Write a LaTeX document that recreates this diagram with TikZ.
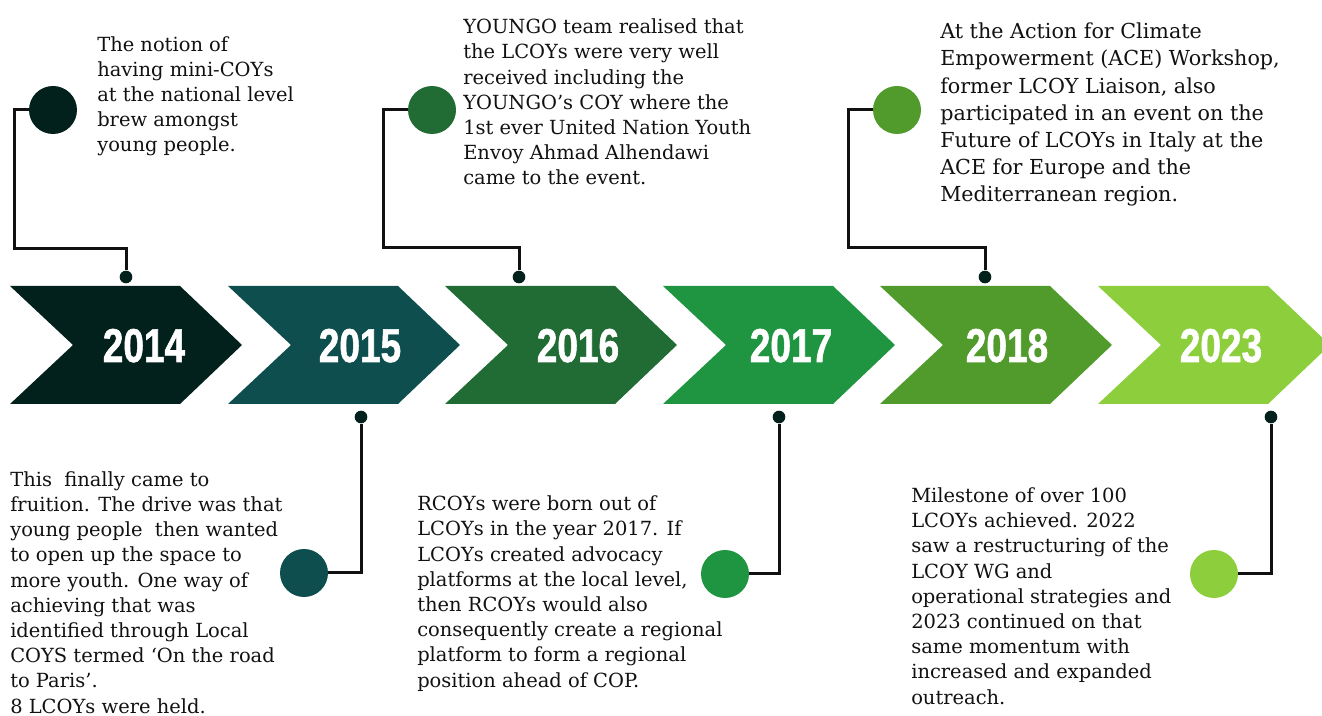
\documentclass[tikz,border=0pt]{standalone}
\usepackage{fontspec}
\setmainfont{DejaVu Serif}
\newfontfamily\yearfont[FakeStretch=0.78,FakeBold=1.2]{Liberation Sans}
\definecolor{yr14}{HTML}{03211C}
\definecolor{yr15}{HTML}{0E4E4E}
\definecolor{yr16}{HTML}{216B35}
\definecolor{yr17}{HTML}{1F9542}
\definecolor{yr18}{HTML}{519B2D}
\definecolor{yr23}{HTML}{8DCE3C}
\definecolor{ink}{HTML}{111111}

\begin{document}
\begin{tikzpicture}[x=0.75pt,y=-0.75pt,
  year/.style={text=white,inner sep=0,anchor=base,
    font=\yearfont\bfseries\fontsize{35.6}{36}\selectfont},
  blurb/.style={text=ink,inner sep=0,anchor=base west,align=left,
    font=\fontsize{14.6}{18.9}\selectfont},
  bubble/.style={circle,inner sep=0,minimum size=36pt},
  pin/.style={circle,inner sep=0,minimum size=9.5pt,fill=yr14},
  link/.style={ink,line width=2.25pt}]
  \clip (0,0) rectangle (1322,716);

  % Arrows
  \foreach \l/\c in {10/yr14,228/yr15,445/yr16,663/yr17,880/yr18,1098/yr23}
    \fill[\c] (\l,286) -- ++(170,0) -- ++(62,59) -- ++(-62,59)
      -- ++(-170,0) -- ++(63,-59) -- cycle;
  \foreach \x/\n in {144/2014,360/2015,578/2016,791/2017,1007/2018,1221/2023}
    \node[year] (y\n) at (\x,362) {\n};

  % Top row (text placed by its last line)
  \node[bubble,fill=yr14] (c14) at (53,110) {};
  \node[pin] (d14) at (126,277) {};
  \coordinate (k14) at (14,249);
  \draw[link] (c14.west) -| (k14) -| (d14.north);
  \node[blurb] (t14) at (97,152) {The notion of\\having mini-COYs\\at the national level\\brew amongst\\young people.};

  \node[bubble,fill=yr16] (c16) at (432,110) {};
  \node[pin] (d16) at (519,277) {};
  \coordinate (k16) at (383,248);
  \draw[link] (c16.west) -| (k16) -| (d16.north);
  \node[blurb] (t16) at (463,185) {YOUNGO team realised that\\the LCOYs were very well\\received including the\\YOUNGO’s COY where the\\1st ever United Nation Youth\\Envoy Ahmad Alhendawi\\came to the event.};

  \node[bubble,fill=yr18] (c18) at (897,110) {};
  \node[pin] (d18) at (985,277) {};
  \coordinate (k18) at (848,248);
  \draw[link] (c18.west) -| (k18) -| (d18.north);
  \node[blurb,font=\fontsize{15.5}{20.4}\selectfont] (t18) at (940,202) {At the Action for Climate\\Empowerment (ACE) Workshop,\\former LCOY Liaison, also\\participated in an event on the\\Future of LCOYs in Italy at the\\ACE for Europe and the\\Mediterranean region.};

  % Bottom row
  \node[bubble,fill=yr15] (c15) at (304,573) {};
  \node[pin] (d15) at (361,417) {};
  \draw[link] (d15.south) |- (c15.east);
  \node[blurb] (t15) at (10,713) {This\ \ finally came to\\fruition. The drive was that\\young people\ \ then wanted\\to open up the space to\\more youth. One way of\\achieving that was\\identified through Local\\COYS termed ‘On the road\\to Paris’.\\8 LCOYs were held.};

  \node[bubble,fill=yr17] (c17) at (725,574) {};
  \node[pin] (d17) at (779,417) {};
  \draw[link] (d17.south) |- (c17.east);
  \node[blurb] (t17) at (417,687) {RCOYs were born out of\\LCOYs in the year 2017. If\\LCOYs created advocacy\\platforms at the local level,\\then RCOYs would also\\consequently create a regional\\platform to form a regional\\position ahead of COP.};

  \node[bubble,fill=yr23] (c23) at (1214,574) {};
  \node[pin] (d23) at (1271,417) {};
  \draw[link] (d23.south) |- (c23.east);
  \node[blurb] (t23) at (911,704) {Milestone of over 100\\LCOYs achieved. 2022\\saw a restructuring of the\\LCOY WG and\\operational strategies and\\2023 continued on that\\same momentum with\\increased and expanded\\outreach.};
\end{tikzpicture}
\end{document}
